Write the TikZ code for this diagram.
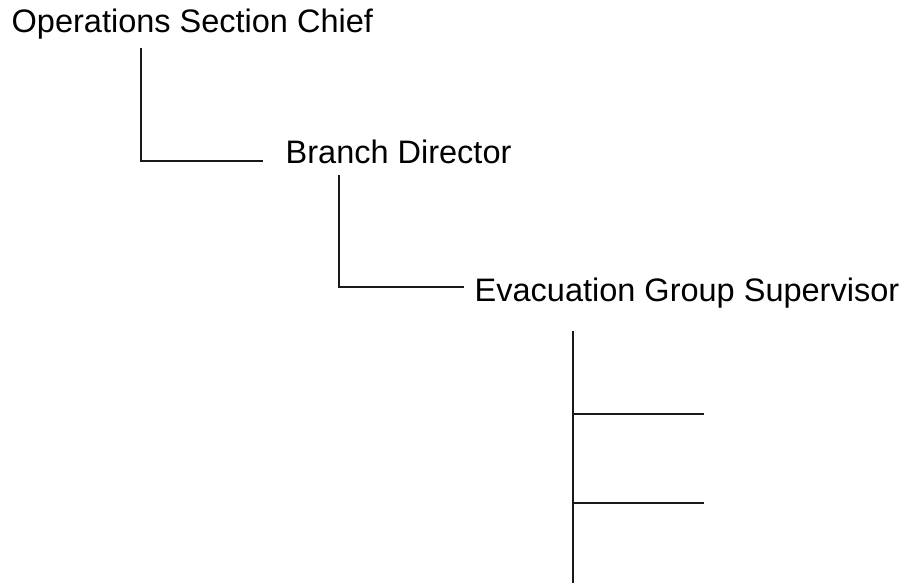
\documentclass[tikz,border=0pt]{standalone}
\usepackage{fontspec}
\setmainfont{Liberation Sans}
\begin{document}
\begin{tikzpicture}[x=1pt,y=-1pt,
  lbl/.style={inner sep=0pt, anchor=base west, font=\fontsize{32.5}{39}\selectfont},
  conn/.style={line width=1.4pt, draw=black!90}]
\useasboundingbox (0,0) rectangle (909,583);
\node[lbl] (ops) at (11.5,33) {Operations Section Chief};
\node[lbl] (br) at (285.5,163) {Branch Director};
\node[lbl] (ev) at (474.5,301) {Evacuation Group Supervisor};
\coordinate (a1) at (141,48);
\coordinate (a2) at (263,161);
\coordinate (b1) at (339,175);
\coordinate (b2) at (464,287);
\coordinate (c1) at (573,331);
\coordinate (c2) at (573,583);
\coordinate (d1) at (704,414);
\coordinate (d2) at (704,503);
\draw[conn] (a1) |- (a2);
\draw[conn] (b1) |- (b2);
\draw[conn] (c1) -- (c2);
\draw[conn] (c1 |- d1) -- (d1);
\draw[conn] (c1 |- d2) -- (d2);
\end{tikzpicture}
\end{document}
